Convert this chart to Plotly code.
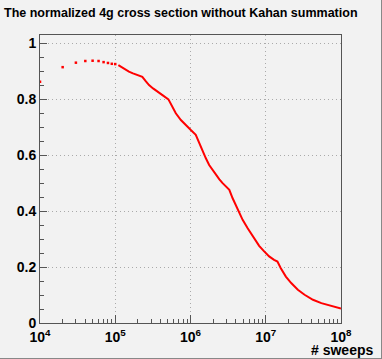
import plotly.graph_objects as go

# sparse points at the start of the run
sweeps_sparse = [1e4, 2e4, 3e4, 4e4, 5e4, 6e4, 7e4, 8e4, 9e4, 1e5]
xsec_sparse = [0.863, 0.915, 0.931, 0.937, 0.938, 0.937, 0.933, 0.930, 0.927, 0.926]

# dense part (reads as a line)
sweeps_dense = [
    1.10e5, 1.18e5, 1.35e5, 1.52e5, 1.72e5, 1.96e5, 2.29e5, 2.54e5, 2.81e5, 3.18e5,
    3.63e5, 4.24e5, 5.09e5, 5.75e5, 6.38e5, 7.45e5, 8.69e5, 1.01e6, 1.175e6, 1.31e6,
    1.45e6, 1.60e6, 1.77e6, 1.96e6, 2.18e6, 2.42e6, 2.67e6, 2.97e6, 3.28e6, 3.63e6,
    4.03e6, 4.46e6, 4.93e6, 5.75e6, 7.00e6, 8.17e6, 9.53e6, 1.11e7, 1.29e7, 1.43e7,
    1.585e7, 1.85e7, 2.18e7, 2.67e7, 3.28e7, 4.24e7, 5.48e7, 7.06e7, 1.0e8,
]
xsec_dense = [
    0.922, 0.917, 0.907, 0.899, 0.893, 0.888, 0.880, 0.865, 0.851, 0.839,
    0.827, 0.815, 0.800, 0.774, 0.750, 0.726, 0.706, 0.690, 0.673, 0.643,
    0.613, 0.589, 0.565, 0.547, 0.530, 0.514, 0.500, 0.488, 0.476, 0.446,
    0.419, 0.393, 0.369, 0.339, 0.304, 0.276, 0.256, 0.238, 0.226, 0.220,
    0.196, 0.166, 0.143, 0.119, 0.101, 0.083, 0.071, 0.062, 0.052,
]

x_ticks = [1e4, 1e5, 1e6, 1e7, 1e8]
x_ticktext = ["10<sup>4</sup>", "10<sup>5</sup>", "10<sup>6</sup>", "10<sup>7</sup>", "10<sup>8</sup>"]
y_ticks = [0, 0.2, 0.4, 0.6, 0.8, 1]
y_ticktext = ["0", "0.2", "0.4", "0.6", "0.8", "1"]
x_minor = [m * 10 ** e for e in range(4, 8) for m in range(2, 10)]

W, H = 382, 359
L, R, T, B = 40, 41, 35, 36
pw, ph = W - L - R, H - T - B
bg = "#f2f2f2"
frame = "#555555"
font_family = "Liberation Sans, Arial, sans-serif"
bold = dict(family=font_family, size=14, color="black", weight="bold")

fig = go.Figure()
fig.add_trace(go.Scatter(
    x=sweeps_sparse, y=xsec_sparse, mode="markers",
    marker=dict(symbol="square", size=2.5, color="#ff0000", line=dict(width=0)),
    showlegend=False,
))
fig.add_trace(go.Scatter(
    x=sweeps_dense, y=xsec_dense, mode="lines",
    line=dict(color="#ff0000", width=2),
    showlegend=False,
))

fig.update_xaxes(
    type="log", range=[4, 8], tickmode="array", tickvals=x_ticks, ticktext=x_ticktext,
    showline=True, linecolor=frame, linewidth=1, mirror=True,
    ticks="inside", ticklen=8, tickcolor=frame, ticklabelstandoff=1,
    showgrid=True, gridcolor="#aaaaaa", griddash="1px,3px", gridwidth=1,
    zeroline=False, tickfont=bold, automargin=False,
    minor=dict(tickmode="array", tickvals=x_minor, ticks="inside", ticklen=4,
               tickcolor=frame, showgrid=False),
)
fig.update_yaxes(
    range=[0, 1.03], tickmode="array", tickvals=y_ticks, ticktext=y_ticktext,
    showline=True, linecolor=frame, linewidth=1, mirror=True,
    ticks="inside", ticklen=7, tickcolor=frame,
    showgrid=True, gridcolor="#aaaaaa", griddash="1px,3px", gridwidth=1,
    zeroline=False, tickfont=bold, automargin=False,
    minor=dict(dtick=0.05, ticks="inside", ticklen=4, tickcolor=frame, showgrid=False),
)

fig.add_annotation(
    text="# sweeps", xref="paper", yref="paper",
    x=(375 - L) / pw, y=-(350 - (H - B)) / ph, xanchor="right", yanchor="middle",
    showarrow=False, font=dict(family=font_family, size=14, color="black", weight="bold"),
)

# canvas bevel (bottom/right dark edge)
px = lambda p: (p - L) / pw
py = lambda p: ((H - B) - p) / ph
fig.add_shape(type="line", xref="paper", yref="paper", x0=px(0), x1=px(W), y0=py(H - 0.5), y1=py(H - 0.5),
              line=dict(color="#888888", width=1))
fig.add_shape(type="line", xref="paper", yref="paper", x0=px(W - 0.5), x1=px(W - 0.5), y0=py(0), y1=py(H),
              line=dict(color="#888888", width=1))

fig.update_layout(
    width=W, height=H,
    margin=dict(l=L, r=R, t=T, b=B, autoexpand=False),
    paper_bgcolor=bg, plot_bgcolor=bg,
    title=dict(text="The normalized 4g cross section without Kahan summation",
               x=4 / W, xanchor="left", y=1 - 13 / H, yanchor="middle",
               font=dict(family=font_family, size=12.5, color="black", weight="bold")),
)

fig.write_html("out.html", config={"displayModeBar": False},
               post_script="document.body.style.margin='0';")
